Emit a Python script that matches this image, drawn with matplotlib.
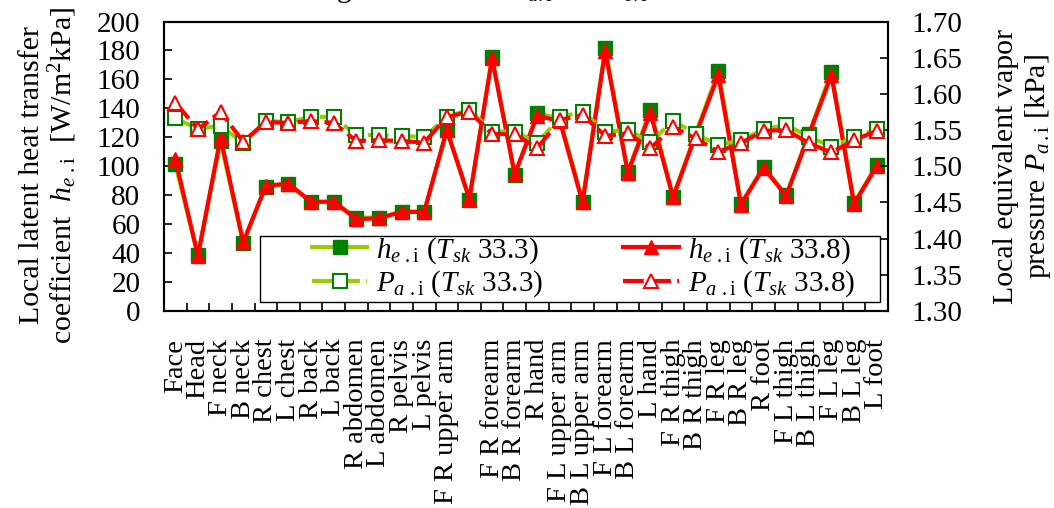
import numpy as np
import matplotlib
matplotlib.use("Agg")
import matplotlib.pyplot as plt
from matplotlib.patches import Rectangle

plt.rcParams["font.family"] = ["Liberation Serif", "DejaVu Serif"]
plt.rcParams["mathtext.fontset"] = "custom"
plt.rcParams["mathtext.rm"] = "Liberation Serif"
plt.rcParams["mathtext.it"] = "Liberation Serif:italic"

# body segments (the 14th label is empty in the source figure)
segments = ["Face", "Head", "F neck", "B neck", "R chest", "L chest", "R back", "L back",
            "R abdomen", "L abdomen", "R pelvis", "L pelvis", "F R upper arm", "",
            "F R forearm", "B R forearm", "R hand", "F L upper arm", "B L upper arm",
            "F L forearm", "B L forearm", "L hand", "F R thigh", "B R thigh", "F R leg",
            "B R leg", "R foot", "F L thigh", "B L thigh", "F L leg", "B L leg", "L foot"]

# local latent heat transfer coefficient [W/m2kPa]
h_333 = [101.5, 38.5, 117.5, 47, 86, 88, 75, 75.5, 64.5, 64.5, 68.5, 68.5, 125, 77,
         175.5, 94, 136.5, 133, 75.5, 181.5, 96, 139, 79, 122.5, 165.5, 74, 99.5, 80,
         122.5, 165, 74.5, 101]
h_338 = [105, 38, 120, 47.5, 86.5, 88, 75.5, 75.5, 63.5, 64, 68.5, 68.5, 125, 77.5,
         174.5, 94.5, 135, 131, 75, 179.5, 95.5, 137, 78.5, 121.5, 163, 73.5, 99, 79.5,
         121.5, 163, 74, 100]

# local equivalent vapor pressure [kPa]
p_333 = [1.566, 1.552, 1.556, 1.532, 1.5625, 1.561, 1.5685, 1.568, 1.543, 1.543, 1.542,
         1.540, 1.5685, 1.578, 1.548, 1.548, 1.532, 1.5675, 1.5755, 1.548, 1.550, 1.533,
         1.563, 1.5445, 1.529, 1.536, 1.551, 1.557, 1.541, 1.527, 1.540, 1.551]
p_338 = [1.588, 1.551, 1.575, 1.534, 1.561, 1.560, 1.5625, 1.560, 1.535, 1.536, 1.535,
         1.5325, 1.568, 1.5755, 1.5445, 1.5445, 1.525, 1.564, 1.571, 1.542, 1.5455, 1.525,
         1.554, 1.5385, 1.520, 1.532, 1.549, 1.550, 1.532, 1.519, 1.536, 1.549]

x = np.arange(len(segments))
lime = "#99cc00"
dash = (0, (5, 1.5))
fs = 21

fig = plt.figure(figsize=(10.54, 5.08), dpi=100)
ax = fig.add_axes([164 / 1054, 1 - 311 / 508, 724 / 1054, 289.5 / 508])
ax2 = ax.twinx()

l1, = ax.plot(x, h_333, color=lime, lw=3, marker="s", ms=9.5, mfc="#008000", mec="#008000",
              label=r"$h_{e\ .\mathrm{i}}$ ($T_{sk}$ 33.3)")
l3, = ax.plot(x, h_338, color="red", lw=3, marker="^", ms=10, mfc="red", mec="red",
              label=r"$h_{e\ .\mathrm{i}}$ ($T_{sk}$ 33.8)")
l2, = ax2.plot(x, p_333, color=lime, lw=3, ls=dash, marker="s", ms=9.5, mfc="white",
               mec="#008000", mew=1.5, label=r"$P_{a\ .\mathrm{i}}$ ($T_{sk}$ 33.3)")
l4, = ax2.plot(x, p_338, color="red", lw=3, ls=dash, marker="^", ms=10, mfc="white",
               mec="red", mew=1.5, label=r"$P_{a\ .\mathrm{i}}$ ($T_{sk}$ 33.8)")

ax.set_xlim(-0.5, len(segments) - 0.5)
ax.set_ylim(0, 200)
ax.set_yticks(np.arange(0, 201, 20))
ax2.set_ylim(1.30, 1.70)
ax2.set_yticks(np.arange(1.30, 1.701, 0.05))
ax2.set_yticklabels([f"{v:.2f}" for v in np.arange(1.30, 1.701, 0.05)])

ax.set_xticks(x)
ax.set_xticklabels(segments, rotation=90, fontsize=20.5)
ax.set_xticks(x[:-1] + 0.5, minor=True)
ax.tick_params(axis="x", which="major", length=0, pad=20)
ax.tick_params(axis="x", which="minor", direction="in", length=6, width=1.2)
ax.tick_params(axis="y", direction="in", length=6, width=1.2, labelsize=fs, pad=17)
ax2.tick_params(axis="y", direction="in", length=6, width=1.2, labelsize=fs, pad=17)
for a in (ax, ax2):
    for s in a.spines.values():
        s.set_linewidth(1.5)

ax.set_ylabel("Local latent heat transfer\ncoefficient  $h_{e\\ .\\mathrm{i}}$  [W/m$^2$kPa]",
              fontsize=21.5, linespacing=1.05, labelpad=13)
ax.yaxis.label.set_y(0.47)
ax2.set_ylabel("Local equivalent vapor\npressure $P_{a\\,.\\mathrm{i}}$ [kPa]",
               fontsize=21.5, linespacing=1.15, labelpad=22)

# title, cut off by the top edge as in the source
fig.text(275 / 1054, 1 + 3 / 508, r"Change of the local $P_{a.\mathrm{i}}$ and $h_{e.\mathrm{i}}$",
         fontsize=fs, ha="left", va="baseline")

ax2.add_patch(Rectangle((0.1326, 0.031), 0.856, 0.228, transform=ax2.transAxes,
                        fc="white", ec="black", lw=1, zorder=5))
leg = ax2.legend(handles=[l1, l2, l3, l4], ncol=2, loc="upper left", bbox_to_anchor=(0.2044, 0.262),
                 frameon=False, fontsize=fs, numpoints=1, handlelength=1.9, handletextpad=0.3,
                 columnspacing=2.75, borderpad=0, borderaxespad=0, labelspacing=0.1)
leg.set_zorder(6)

fig.savefig("out.png", dpi=100)
